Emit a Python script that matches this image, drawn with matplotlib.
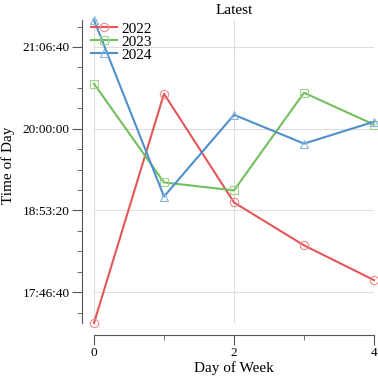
import matplotlib
matplotlib.use('Agg')
import matplotlib.pyplot as plt
from matplotlib.ticker import FuncFormatter, MultipleLocator

plt.rcParams['font.family'] = ['Liberation Serif', 'DejaVu Serif']

days = [0, 1, 2, 3, 4]
# seconds since midnight
y2022 = [62490, 73710, 68390, 66290, 64590]
y2023 = [74200, 69370, 68980, 73760, 72200]
y2024 = [77320, 68680, 72680, 71270, 72340]

def hms(v, pos=None):
    v = int(round(v))
    return '%02d:%02d:%02d' % (v // 3600, (v % 3600) // 60, v % 60)

fig = plt.figure(figsize=(3.78, 3.78), dpi=100)
ax = fig.add_axes([94/378, 55/378, 280/378, 303/378])

ax.plot(days, y2022, color='#e45658', lw=1.5, marker='o', ms=6, mew=0.8, mfc='none', mec='#f08a8c', label='2022', clip_on=False)
ax.plot(days, y2023, color='#72c05d', lw=1.5, marker='s', ms=6, mew=0.8, mfc='none', mec='#9ad48a', label='2023', clip_on=False)
ax.plot(days, y2024, color='#4e8fcc', lw=1.5, marker='^', ms=6, mew=0.8, mfc='none', mec='#88b6e0', label='2024', clip_on=False)

ax.set_xlim(0, 4)
ax.set_ylim(min(y2022 + y2023 + y2024), max(y2022 + y2023 + y2024))
ax.xaxis.set_major_locator(MultipleLocator(2))
ax.xaxis.set_minor_locator(MultipleLocator(1))
ax.yaxis.set_major_locator(MultipleLocator(4000))
ax.yaxis.set_minor_locator(MultipleLocator(1000))
ax.yaxis.set_major_formatter(FuncFormatter(hms))

ax.grid(True, which='major', color='#dddddd', lw=0.8)
ax.set_axisbelow(True)
for s in ['top', 'right']:
    ax.spines[s].set_visible(False)
ax.spines['left'].set_position(('outward', 8.6))
ax.spines['bottom'].set_position(('outward', 8.6))
for s in ['left', 'bottom']:
    ax.spines[s].set_color('#555555')
ax.tick_params(which='both', colors='#555555', labelcolor='black', labelsize=9.5, pad=2)
ax.tick_params(which='major', length=7)
ax.tick_params(which='minor', length=3.6)

ax.set_title('Latest', fontsize=11, pad=4)
ax.set_xlabel('Day of Week', fontsize=11, labelpad=1)
ax.set_ylabel('Time of Day', fontsize=11)
ax.yaxis.set_label_coords(-0.283, 0.52)
ax.legend(loc='upper left', bbox_to_anchor=(-0.011, 0.993), frameon=False, fontsize=11,
          handlelength=1.7, labelspacing=-0.05, borderpad=0, borderaxespad=0, handletextpad=0.3)

fig.savefig('out.png', dpi=100)
